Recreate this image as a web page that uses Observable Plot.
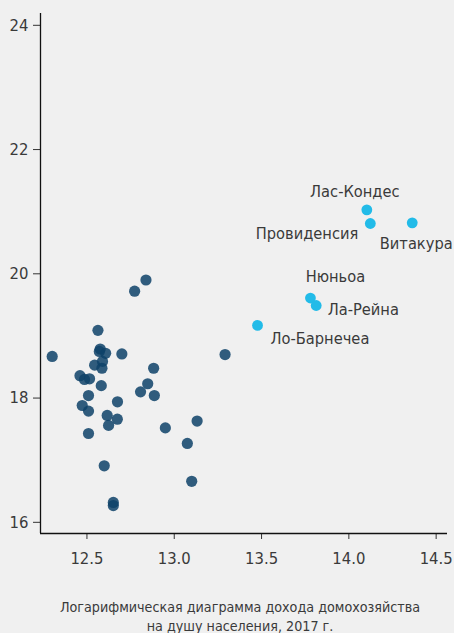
<!DOCTYPE html>
<html>
<head>
<meta charset="utf-8">
<script src="https://cdn.jsdelivr.net/npm/d3@7"></script>
<script src="https://cdn.jsdelivr.net/npm/@observablehq/plot@0.6"></script>
<style>
  html, body { margin: 0; padding: 0; background: #f0f0f0; }
  #chart svg { display: block; }
</style>
</head>
<body>
<div id="chart"></div>
<script>
// Other communes (x = log household income per capita, y = outcome)
const otherX = [12.838, 12.773, 12.563, 12.301, 12.576, 12.571, 12.607, 12.700, 13.291, 12.589,
                12.544, 12.586, 12.882, 12.460, 12.486, 12.515, 12.582, 12.848, 12.807, 12.886,
                12.509, 12.675, 12.473, 12.509, 12.616, 12.674, 12.624, 13.131, 12.509, 12.949,
                13.075, 12.599, 13.100, 12.651, 12.651];
const otherY = [19.90, 19.72, 19.09, 18.67, 18.79, 18.75, 18.72, 18.71, 18.70, 18.59,
                18.53, 18.48, 18.48, 18.36, 18.30, 18.31, 18.20, 18.23, 18.10, 18.04,
                18.04, 17.94, 17.88, 17.79, 17.72, 17.66, 17.56, 17.63, 17.43, 17.52,
                17.27, 16.91, 16.66, 16.32, 16.27];

// Highlighted communes
const hiNames = ["Лас-Кондес", "Провиденсия", "Витакура", "Нюньоа", "Ла-Рейна", "Ло-Барнечеа"];
const hiX = [14.103, 14.123, 14.363, 13.780, 13.813, 13.477];
const hiY = [21.03, 20.81, 20.82, 19.61, 19.49, 19.17];

const xTicks = [12.5, 13.0, 13.5, 14.0, 14.5];
const yTicks = [16, 18, 20, 22, 24];
const xDomain = [12.234, 14.565];
const yDomain = [15.82, 24.19];
const captionText = "Логарифмическая диаграмма дохода домохозяйства\nна душу населения, 2017 г.";

// label placement (style only)
const labelStyle = [
  {anchor: "middle", dx: -12, dy: -13},
  {anchor: "end", dx: -12, dy: 15.5},
  {anchor: "middle", dx: 4, dy: 26},
  {anchor: "middle", dx: 25, dy: -16},
  {anchor: "start", dx: 11.5, dy: 10},
  {anchor: "start", dx: 13, dy: 18.5}
];

const others = otherX.map((x, i) => ({x, y: otherY[i]}));
const highlights = hiNames.map((name, i) => ({name, x: hiX[i], y: hiY[i]}));

const FONT = "'DejaVu Sans Condensed', 'DejaVu Sans', sans-serif";

const labelMarks = highlights.map((d, i) => Plot.text([d], {
  x: "x", y: "y", text: "name",
  textAnchor: labelStyle[i].anchor, lineAnchor: "bottom",
  dx: labelStyle[i].dx, dy: labelStyle[i].dy,
  fontSize: 16.3, fill: "#3a3a3a"
}));

const chart = Plot.plot({
  width: 454,
  height: 633,
  marginLeft: 40,
  marginRight: 7,
  marginTop: 13,
  marginBottom: 100,
  style: {background: "#f0f0f0", fontFamily: FONT, color: "#3a3a3a", overflow: "visible"},
  x: {domain: xDomain, ticks: xTicks, tickFormat: d3.format(".1f"), label: null},
  y: {domain: yDomain, ticks: yTicks, label: null},
  marks: [
    Plot.axisX({ticks: xTicks, tickFormat: d3.format(".1f"), tickSize: 6, tickPadding: 13, fontSize: 16.5, stroke: "#333", fill: "#3a3a3a", label: null}),
    Plot.axisY({ticks: yTicks, tickSize: 7, tickPadding: 5, fontSize: 16.5, stroke: "#333", fill: "#3a3a3a", label: null}),
    Plot.ruleX([xDomain[0]], {stroke: "#111", strokeWidth: 1.3}),
    Plot.ruleY([yDomain[0]], {stroke: "#111", strokeWidth: 1.3}),
    Plot.dot(others, {x: "x", y: "y", r: 5.6, fill: "#0e4268", fillOpacity: 0.85, stroke: "none"}),
    Plot.dot(highlights, {x: "x", y: "y", r: 5.4, fill: "#22bbe8", stroke: "none"}),
    ...labelMarks,
    Plot.text([captionText], {
      frameAnchor: "bottom", text: d => d, lineAnchor: "bottom",
      dy: 97, dx: -4, fontSize: 14.2, lineHeight: 1.28, fill: "#3a3a3a", textAnchor: "middle"
    })
  ]
});

document.getElementById("chart").appendChild(chart);
</script>
</body>
</html>
